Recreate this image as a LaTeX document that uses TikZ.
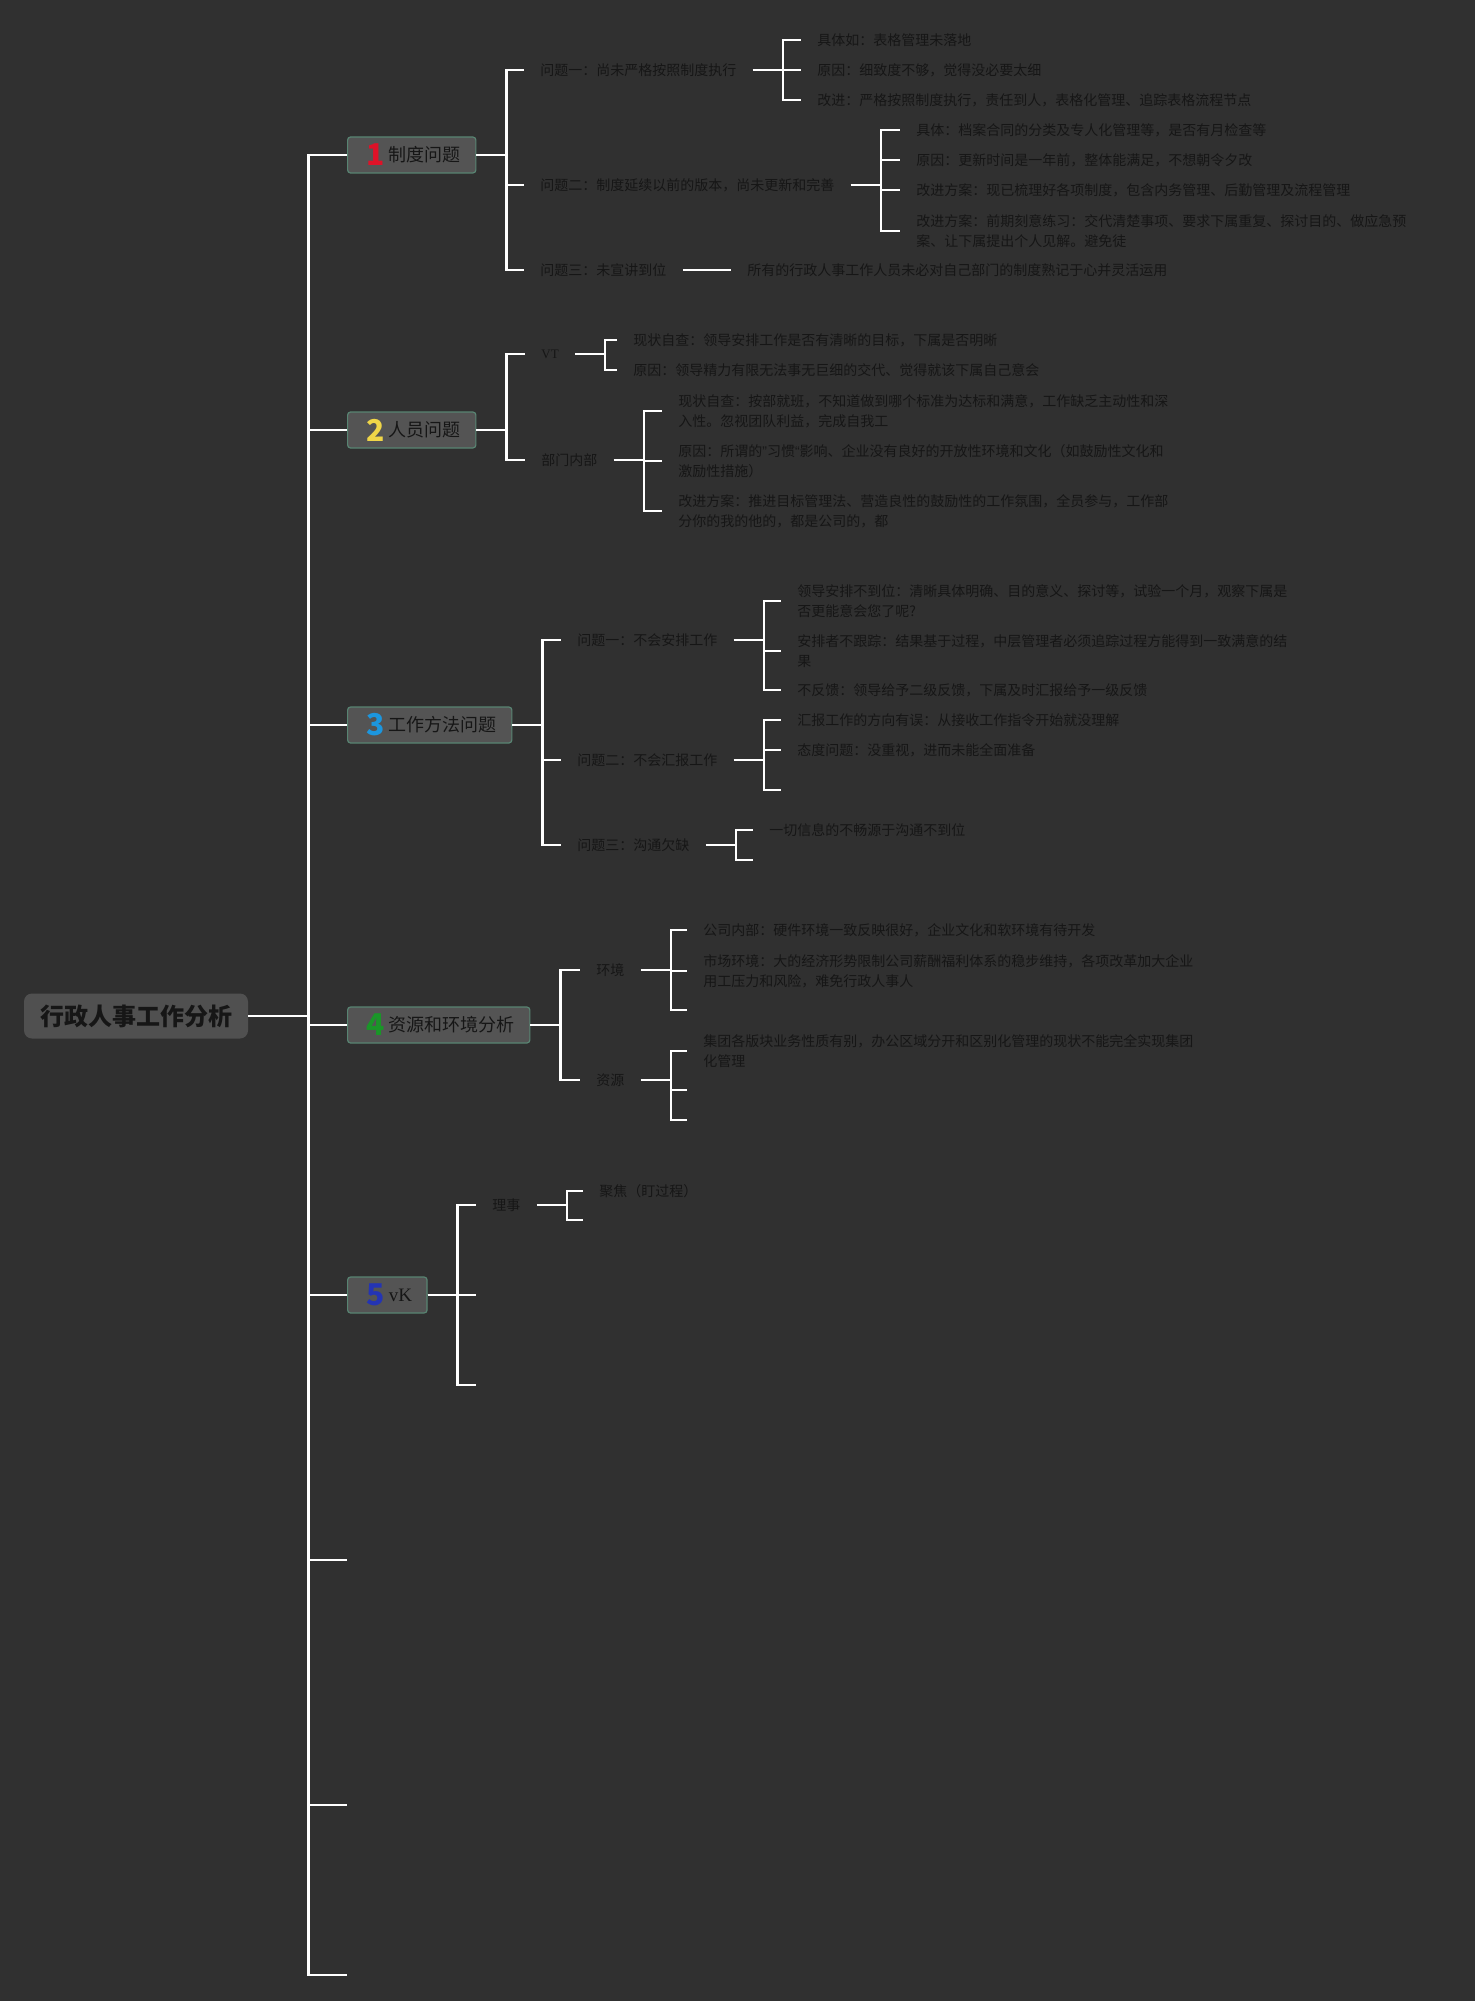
\documentclass[tikz,border=0pt]{standalone}
\usepackage{fontspec}
\setmainfont{Noto Sans CJK SC}
\newfontfamily\latinserif{Liberation Serif}
\newfontfamily\latinsans{Liberation Sans}
\usepackage{tikz}
\definecolor{mapbg}{RGB}{48,48,48}
\definecolor{rootgray}{RGB}{80,80,80}
\definecolor{boxgray}{RGB}{84,84,84}
\definecolor{boxedge}{RGB}{88,132,114}
\definecolor{inkgray}{RGB}{22,22,22}
\definecolor{numred}{RGB}{222,18,40}
\definecolor{numyellow}{RGB}{240,214,72}
\definecolor{numblue}{RGB}{28,150,222}
\definecolor{numgreen}{RGB}{26,150,40}
\definecolor{numnavy}{RGB}{36,52,180}
\newcommand{\topicnum}[2]{\hspace{2pt}\raisebox{-2.2pt}{\fontsize{15pt}{15pt}\selectfont\bfseries\color{#1}#2}\hspace{2pt}}

\begin{document}
\begin{tikzpicture}[
  x=0.5pt, y=-0.5pt,
  rootnode/.style={rounded corners=4pt, fill=rootgray, text=inkgray, font=\fontsize{12pt}{14pt}\selectfont\bfseries, minimum height=22.5pt, inner xsep=8pt},
  topicnode/.style={anchor=west, draw=boxedge, line width=0.6pt, fill=boxgray, rounded corners=1.5pt, text=inkgray, font=\fontsize{9pt}{11pt}\selectfont, minimum height=18pt, inner xsep=7.5pt},
  leafnode/.style={anchor=west, inner xsep=8pt, inner ysep=1pt, align=left, text=inkgray, font=\fontsize{7pt}{10pt}\selectfont},
  branch/.style={draw=white, line width=1.2pt}
]
  \fill[mapbg] (0,0) rectangle (1475,2001);
  \useasboundingbox (0,0) rectangle (1475,2001);

  \node[rootnode] (root) at (136,1016) {行政人事工作分析};

  \node[topicnode] (c1) at (347,155) {\topicnum{numred}{1}制度问题};
  \node[topicnode] (c2) at (347,430) {\topicnum{numyellow}{2}人员问题};
  \node[topicnode] (c3) at (347,725) {\topicnum{numblue}{3}工作方法问题};
  \node[topicnode] (c4) at (347,1025) {\topicnum{numgreen}{4}资源和环境分析};
  \node[topicnode] (c5) at (347,1295) {\topicnum{numnavy}{5}{\latinserif\fontsize{9.5pt}{11pt}\selectfont vK}};
  \coordinate (c6) at (347,1560);
  \coordinate (c7) at (347,1805);
  \coordinate (c8) at (347,1975);

  \node[leafnode] (q11) at (524,70) {问题一：尚未严格按照制度执行};
  \node[leafnode] (q12) at (524,185) {问题二：制度延续以前的版本，尚未更新和完善};
  \node[leafnode] (q13) at (524,270) {问题三：未宣讲到位};
  \node[leafnode] (a111) at (801,40) {具体如：表格管理未落地};
  \node[leafnode] (a112) at (801,70) {原因：细致度不够，觉得没必要太细};
  \node[leafnode] (a113) at (801,100) {改进：严格按照制度执行，责任到人，表格化管理、追踪表格流程节点};
  \node[leafnode] (a121) at (900,130) {具体：档案合同的分类及专人化管理等，是否有月检查等};
  \node[leafnode] (a122) at (900,160) {原因：更新时间是一年前，整体能满足，不想朝令夕改};
  \node[leafnode] (a123) at (900,190) {改进方案：现已梳理好各项制度，包含内务管理、后勤管理及流程管理};
  \node[leafnode] (a124) at (900,231) {改进方案：前期刻意练习：交代清楚事项、要求下属重复、探讨目的、做应急预\\案、让下属提出个人见解。避免徒};
  \node[leafnode] (a131) at (731,270) {所有的行政人事工作人员未必对自己部门的制度熟记于心并灵活运用};

  \node[leafnode] (q21) at (525,354) {\latinserif\fontsize{6.5pt}{7pt}\selectfont VT};
  \node[leafnode] (q22) at (525,460) {部门内部};
  \node[leafnode] (a211) at (617,340) {现状自查：领导安排工作是否有清晰的目标，下属是否明晰};
  \node[leafnode] (a212) at (617,370) {原因：领导精力有限无法事无巨细的交代、觉得就该下属自己意会};
  \node[leafnode] (a221) at (662,411) {现状自查：按部就班，不知道做到哪个标准为达标和满意，工作缺乏主动性和深\\入性。忽视团队利益，完成自我工};
  \node[leafnode] (a222) at (662,461) {原因：所谓的{\latinsans ”}习惯{\latinsans “}影响、企业没有良好的开放性环境和文化（如鼓励性文化和\\激励性措施）};
  \node[leafnode] (a223) at (662,511) {改进方案：推进目标管理法、营造良性的鼓励性的工作氛围，全员参与，工作部\\分你的我的他的，都是公司的，都};

  \node[leafnode] (q31) at (561,640) {问题一：不会安排工作};
  \node[leafnode] (q32) at (561,760) {问题二：不会汇报工作};
  \node[leafnode] (q33) at (561,845) {问题三：沟通欠缺};
  \node[leafnode] (a311) at (781,601) {领导安排不到位：清晰具体明确、目的意义、探讨等，试验一个月，观察下属是\\否更能意会您了呢?};
  \node[leafnode] (a312) at (781,651) {安排者不跟踪：结果基于过程，中层管理者必须追踪过程方能得到一致满意的结\\果};
  \node[leafnode] (a313) at (781,690) {不反馈：领导给予二级反馈，下属及时汇报给予一级反馈};
  \node[leafnode] (a321) at (781,720) {汇报工作的方向有误：从接收工作指令开始就没理解};
  \node[leafnode] (a322) at (781,750) {态度问题：没重视，进而未能全面准备};
  \coordinate (e323) at (781,790);
  \node[leafnode] (a331) at (753,830) {一切信息的不畅源于沟通不到位};
  \coordinate (e332) at (753,860);

  \node[leafnode] (q41) at (580,970) {环境};
  \node[leafnode] (q42) at (580,1080) {资源};
  \node[leafnode] (a411) at (687,930) {公司内部：硬件环境一致反映很好，企业文化和软环境有待开发};
  \node[leafnode] (a412) at (687,971) {市场环境：大的经济形势限制公司薪酬福利体系的稳步维持，各项改革加大企业\\用工压力和风险，难免行政人事人};
  \coordinate (e413) at (687,1010);
  \node[leafnode] (a421) at (687,1051) {集团各版块业务性质有别，办公区域分开和区别化管理的现状不能完全实现集团\\化管理};
  \coordinate (e422) at (687,1090);
  \coordinate (e423) at (687,1120);

  \node[leafnode] (q51) at (476,1205) {理事};
  \coordinate (e52) at (476,1295);
  \coordinate (e53) at (476,1385);
  \node[leafnode] (a511) at (583,1191) {聚焦（盯过程）};
  \coordinate (e512) at (583,1220);

  \foreach \t in {c1,c2,c3,c4,c5}
    \draw[branch] (root.east) -- ++(60,0) |- (\t.west);
  \foreach \t in {c6,c7,c8}
    \draw[branch] (root.east) -- ++(60,0) |- (\t);

  \foreach \t in {q11,q12,q13}
    \draw[branch] (c1.east) -- ++(30,0) |- (\t.west);
  \foreach \t in {a111,a112,a113}
    \draw[branch] (q11.east) -- ++(30,0) |- (\t.west);
  \foreach \t in {a121,a122,a123,a124}
    \draw[branch] (q12.east) -- ++(30,0) |- (\t.west);
  \draw[branch] (q13.east) -- (a131.west);

  \foreach \t in {q21,q22}
    \draw[branch] (c2.east) -- ++(30,0) |- (\t.west);
  \foreach \t in {a211,a212}
    \draw[branch] (q21.east) -- ++(30,0) |- (\t.west);
  \foreach \t in {a221,a222,a223}
    \draw[branch] (q22.east) -- ++(30,0) |- (\t.west);

  \foreach \t in {q31,q32,q33}
    \draw[branch] (c3.east) -- ++(30,0) |- (\t.west);
  \foreach \t in {a311,a312,a313}
    \draw[branch] (q31.east) -- ++(30,0) |- (\t.west);
  \foreach \t in {a321,a322}
    \draw[branch] (q32.east) -- ++(30,0) |- (\t.west);
  \draw[branch] (q32.east) -- ++(30,0) |- (e323);
  \draw[branch] (q33.east) -- ++(30,0) |- (a331.west);
  \draw[branch] (q33.east) -- ++(30,0) |- (e332);

  \foreach \t in {q41,q42}
    \draw[branch] (c4.east) -- ++(30,0) |- (\t.west);
  \draw[branch] (q41.east) -- ++(30,0) |- (a411.west);
  \draw[branch] (q41.east) -- ++(30,0) |- (a412.west);
  \draw[branch] (q41.east) -- ++(30,0) |- (e413);
  \draw[branch] (q42.east) -- ++(30,0) |- (a421.west);
  \foreach \t in {e422,e423}
    \draw[branch] (q42.east) -- ++(30,0) |- (\t);

  \draw[branch] (c5.east) -- ++(30,0) |- (q51.west);
  \foreach \t in {e52,e53}
    \draw[branch] (c5.east) -- ++(30,0) |- (\t);
  \draw[branch] (q51.east) -- ++(30,0) |- (a511.west);
  \draw[branch] (q51.east) -- ++(30,0) |- (e512);
\end{tikzpicture}
\end{document}
